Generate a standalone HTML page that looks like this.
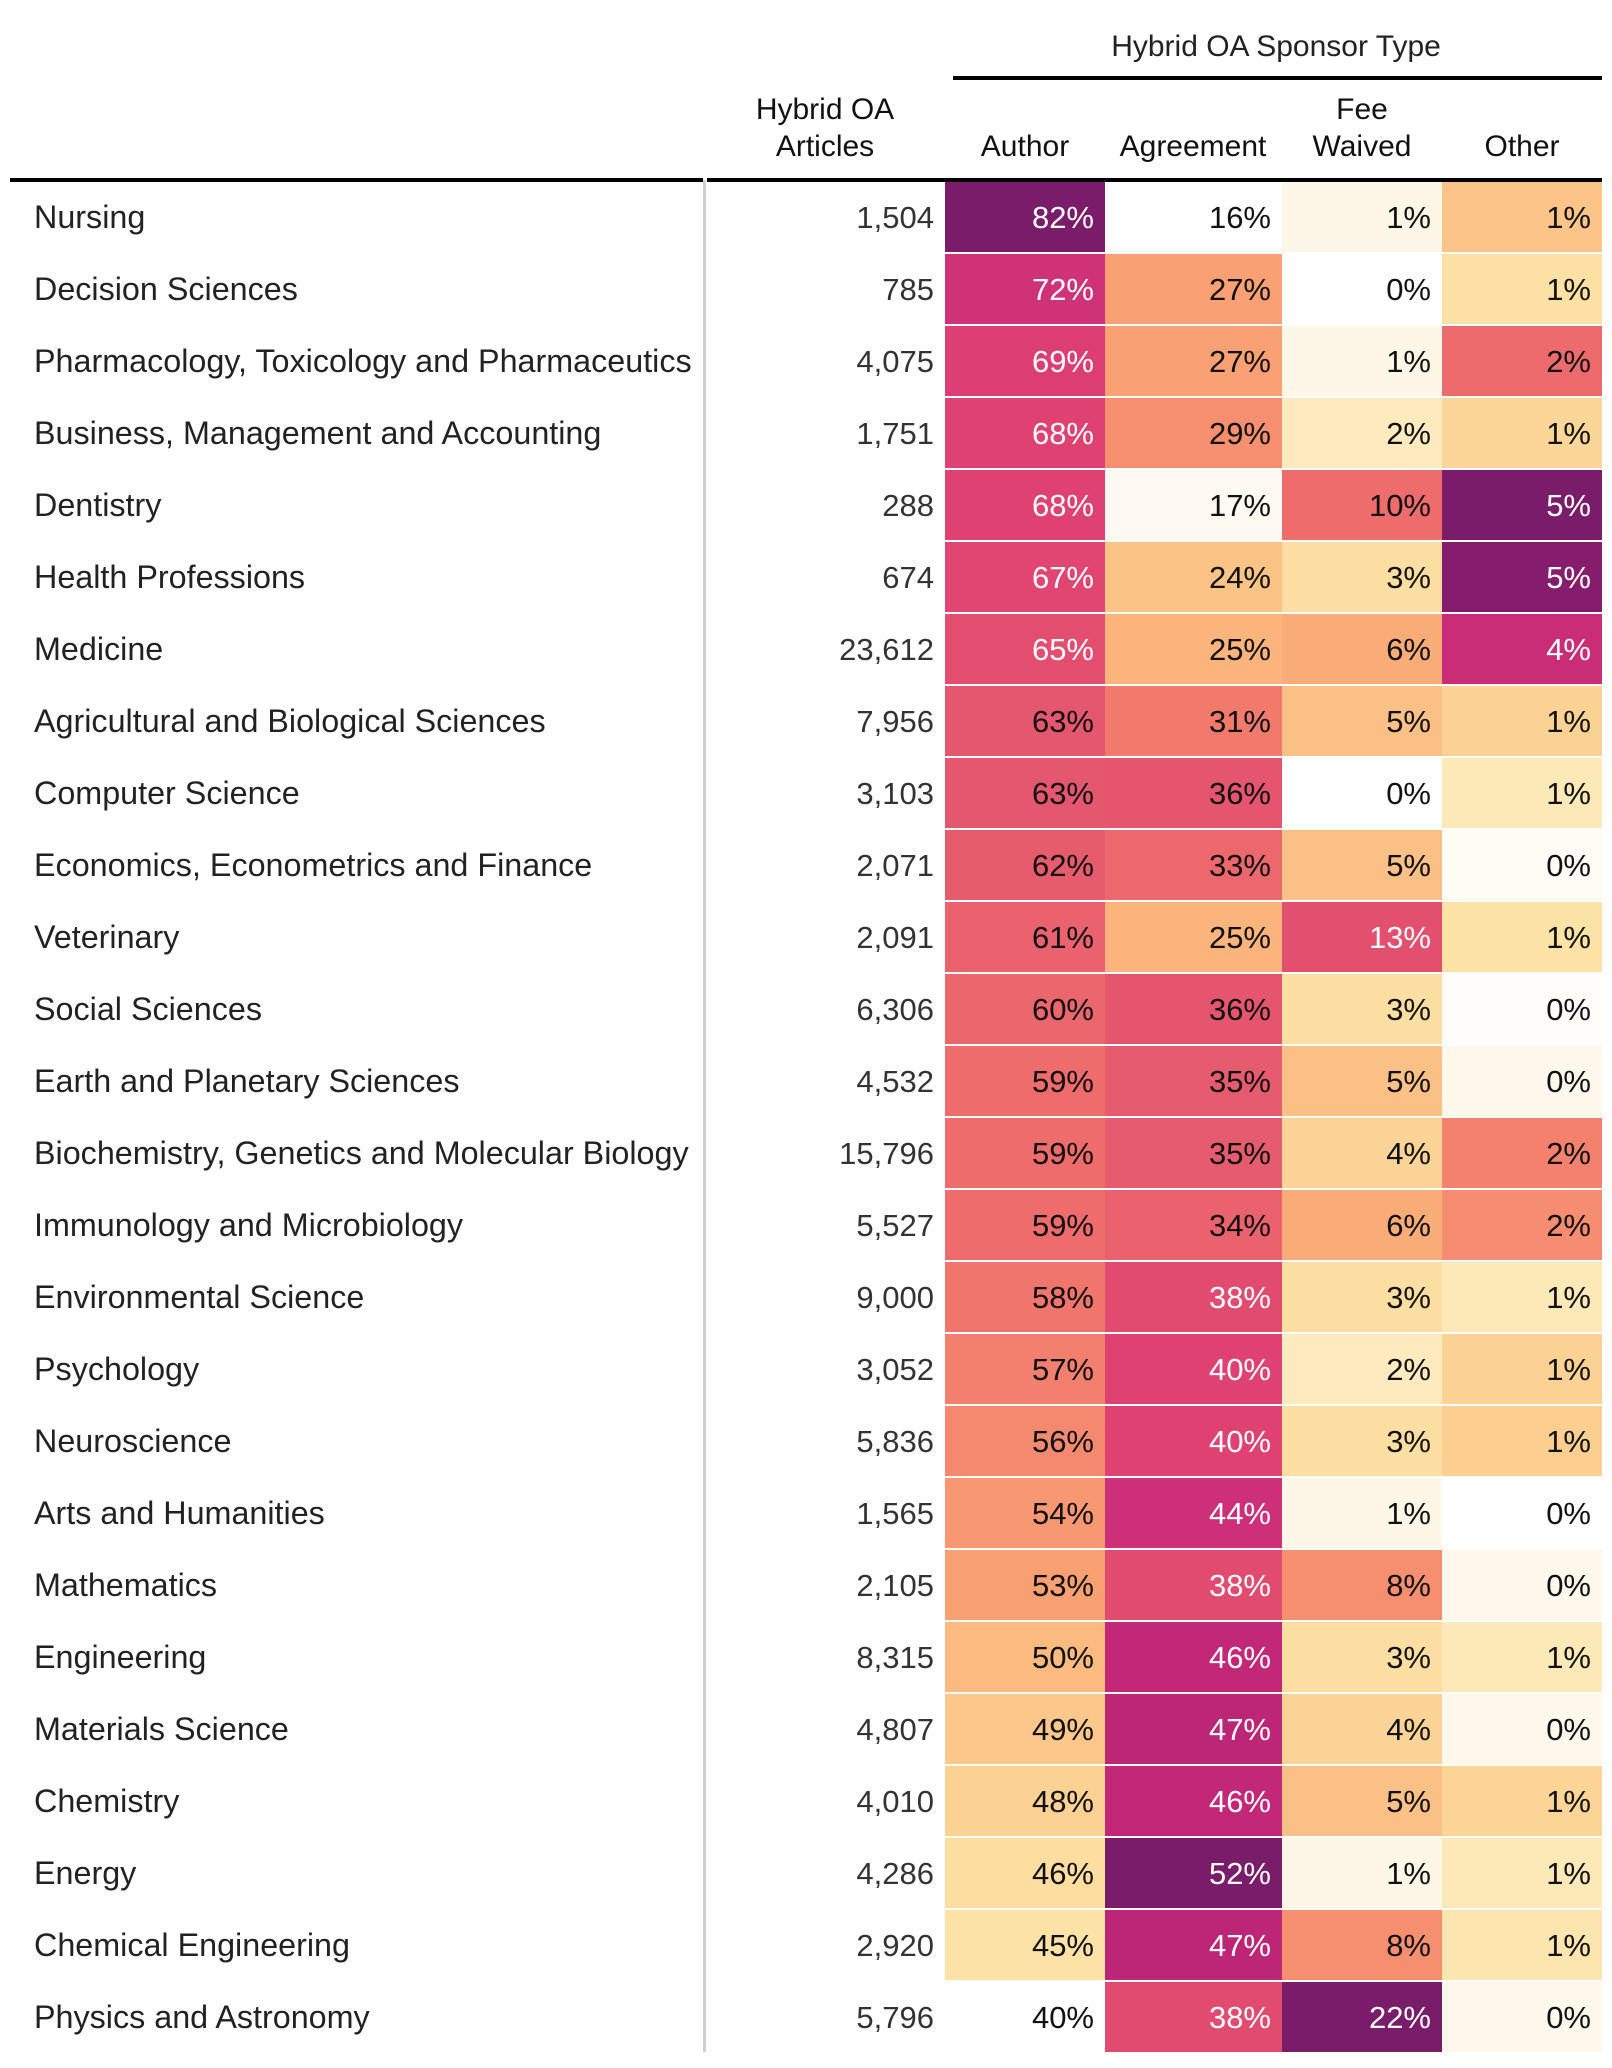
<!DOCTYPE html>
<html><head><meta charset="utf-8"><style>
html,body{margin:0;padding:0;background:#fff;}
svg{display:block;font-family:"Liberation Sans",sans-serif;}
</style></head><body>
<svg id="chart" width="1612" height="2068" viewBox="0 0 1612 2068" xmlns="http://www.w3.org/2000/svg">
<text x="1276" y="56" text-anchor="middle" font-size="30" fill="#222">Hybrid OA Sponsor Type</text>
<rect x="953" y="76" width="649" height="4" fill="#000"/>
<text x="825" y="119" text-anchor="middle" font-size="30" fill="#111">Hybrid OA</text>
<text x="825" y="156" text-anchor="middle" font-size="30" fill="#111">Articles</text>
<text x="1025" y="156" text-anchor="middle" font-size="30" fill="#111">Author</text>
<text x="1193" y="156" text-anchor="middle" font-size="30" fill="#111">Agreement</text>
<text x="1362" y="119" text-anchor="middle" font-size="30" fill="#111">Fee</text>
<text x="1362" y="156" text-anchor="middle" font-size="30" fill="#111">Waived</text>
<text x="1522" y="156" text-anchor="middle" font-size="30" fill="#111">Other</text>
<rect x="10" y="178" width="693" height="4" fill="#000"/>
<rect x="707" y="178" width="895" height="4" fill="#000"/>
<rect x="703" y="180" width="3" height="1872" fill="#cfcfcf"/>
<g id="rows"></g>
</svg>
<script>
const subjects = ["Nursing","Decision Sciences","Pharmacology, Toxicology and Pharmaceutics","Business, Management and Accounting","Dentistry","Health Professions","Medicine","Agricultural and Biological Sciences","Computer Science","Economics, Econometrics and Finance","Veterinary","Social Sciences","Earth and Planetary Sciences","Biochemistry, Genetics and Molecular Biology","Immunology and Microbiology","Environmental Science","Psychology","Neuroscience","Arts and Humanities","Mathematics","Engineering","Materials Science","Chemistry","Energy","Chemical Engineering","Physics and Astronomy"];
const articles = [1504,785,4075,1751,288,674,23612,7956,3103,2071,2091,6306,4532,15796,5527,9000,3052,5836,1565,2105,8315,4807,4010,4286,2920,5796];
const author = [82,72,69,68,68,67,65,63,63,62,61,60,59,59,59,58,57,56,54,53,50,49,48,46,45,40];
const agreement = [16,27,27,29,17,24,25,31,36,33,25,36,35,35,34,38,40,40,44,38,46,47,46,52,47,38];
const feeWaived = [1,0,1,2,10,3,6,5,0,5,13,3,5,4,6,3,2,3,1,8,3,4,5,1,8,22];
const other = [1.1,0.65,2.3,0.85,5.0,4.9,4.0,0.95,0.5,0.1,0.6,0.05,0.2,2.0,1.85,0.5,0.95,1.0,0.0,0.2,0.5,0.2,0.9,0.5,0.55,0.2];

const stops=[[0,"#ffffff"],[0.04,"#fef8ec"],[0.12,"#fde2a6"],[0.2,"#fccf91"],[0.25,"#fbb47b"],[0.31,"#f9a073"],[0.38,"#f5896f"],[0.45,"#ee6d6c"],[0.55,"#e5566e"],[0.67,"#df4172"],[0.78,"#cd2f78"],[0.86,"#bd2577"],[0.93,"#9e2070"],[1,"#7b1c6a"]];
function hex(c){return [1,3,5].map(i=>parseInt(c.substr(i,2),16));}
function cmap(t){t=Math.max(0,Math.min(1,t));for(let i=1;i<stops.length;i++){if(t<=stops[i][0]){const a=stops[i-1],b=stops[i];const f=(t-a[0])/(b[0]-a[0]);const A=hex(a[1]),B=hex(b[1]);return "rgb("+A.map((v,k)=>Math.round(v+(B[k]-v)*f)).join(",")+")";}}return stops[stops.length-1][1];}

const NS="http://www.w3.org/2000/svg";
const g=document.getElementById("rows");
const rowTop=182, pitch=72, cellH=70;
const yRow=i=>rowTop+i*pitch;
const cols=[{name:"author",vals:author,x:945,w:160},{name:"agreement",vals:agreement,x:1105,w:177},{name:"fee-waived",vals:feeWaived,x:1282,w:160},{name:"other",vals:other,x:1442,w:160}];
function mk(tag,attrs){const e=document.createElementNS(NS,tag);for(const k in attrs)e.setAttribute(k,attrs[k]);g.appendChild(e);return e;}
subjects.forEach((s,i)=>{
  const y=yRow(i), base=y+cellH/2+11;
  const l=mk("text",{x:34,y:base,"font-size":32.3,fill:"#222"});
  
  
  l.textContent=s;
  const n=mk("text",{x:934,y:base,"font-size":31,fill:"#333","text-anchor":"end"});
  
  
  n.textContent=articles[i].toLocaleString("en-US");
  cols.forEach(c=>{
    const mn=Math.min(...c.vals),mx=Math.max(...c.vals);
    const t=(c.vals[i]-mn)/(mx-mn);
    const r=mk("rect",{x:c.x,y:y,width:c.w,height:cellH,fill:cmap(t)});
    
    
    const tx=mk("text",{x:c.x+c.w-11,y:base,"font-size":31,fill:t>0.58?"#fff":"#111","text-anchor":"end"});
    
    
    tx.textContent=Math.round(c.vals[i])+"%";
  });
});
</script>
</body></html>
